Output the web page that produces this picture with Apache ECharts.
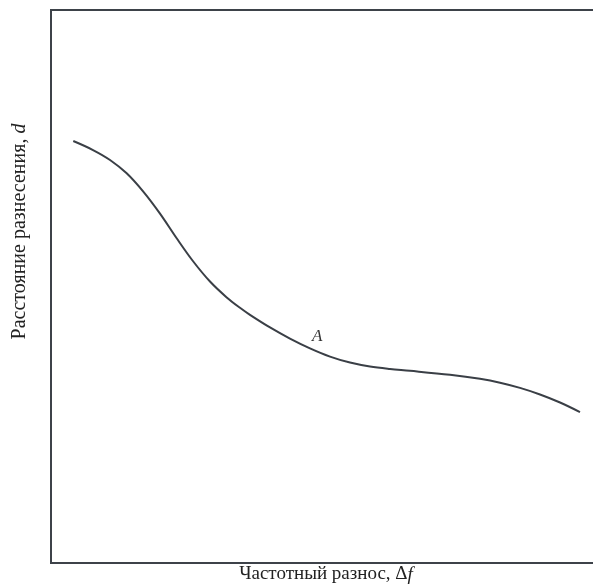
<!DOCTYPE html>
<html>
<head>
<meta charset="utf-8">
<script src="https://cdn.jsdelivr.net/npm/echarts@6/dist/echarts.min.js"></script>
<style>html,body{margin:0;padding:0;background:#fff}#c{width:593px;height:587px}</style>
</head>
<body>
<div id="c"></div>
<script>
const xValues = [4.05, 7.64, 10.73, 13.76, 16.78, 19.82, 22.85, 25.87, 28.91, 31.95, 34.36, 36.18, 39.82, 43.45, 47.09, 50.73, 54.36, 58.00, 61.64, 65.27, 72.55, 78.00, 81.64, 85.27, 88.91, 92.55, 96.18];
const yValues = [76.31, 74.68, 72.88, 70.47, 67.16, 63.18, 58.72, 54.52, 50.90, 48.03, 46.15, 44.88, 42.60, 40.58, 38.81, 37.32, 36.24, 35.52, 35.08, 34.76, 34.03, 33.30, 32.61, 31.67, 30.48, 29.03, 27.30];
const pointLabel = {text: 'A', x: 48.4, y: 41.0};
const xName = ['Частотный разнос, Δ', 'f'];
const yName = ['Расстояние разнесения, ', 'd'];

const font = '"Liberation Serif", "Times New Roman", serif';
const frame = '#3d4249';
const chart = echarts.init(document.getElementById('c'), null, {renderer: 'canvas'});
chart.setOption({
  backgroundColor: '#fff',
  animation: false,
  grid: {left: 51, top: 10, width: 550, height: 553, outerBoundsMode: 'none', containLabel: false,
         show: true, borderColor: frame, borderWidth: 2, backgroundColor: 'transparent'},
  xAxis: {
    type: 'value', min: 0, max: 100,
    axisLine: {show: false}, axisTick: {show: false}, axisLabel: {show: false}, splitLine: {show: false},
    name: '{n|' + xName[0] + '}{i|' + xName[1] + '}',
    nameLocation: 'middle', nameGap: 2,
    nameTextStyle: {verticalAlign: 'top', rich: {
      n: {fontFamily: font, fontSize: 19, color: '#222'},
      i: {fontFamily: font, fontSize: 19, fontStyle: 'italic', color: '#222'}
    }}
  },
  yAxis: {
    type: 'value', min: 0, max: 100,
    axisLine: {show: false}, axisTick: {show: false}, axisLabel: {show: false}, splitLine: {show: false},
    name: '{n|' + yName[0] + '}{i|' + yName[1] + '}',
    nameLocation: 'middle', nameGap: 21,
    nameTextStyle: {padding: [0, 0, 0, 110], rich: {
      n: {fontFamily: font, fontSize: 20, color: '#222'},
      i: {fontFamily: font, fontSize: 20, fontStyle: 'italic', color: '#222'}
    }}
  },
  series: [{
    type: 'line',
    data: xValues.map((x, i) => [x, yValues[i]]),
    smooth: 0.35,
    showSymbol: false,
    lineStyle: {color: '#3a3f46', width: 2},
    markPoint: {
      symbol: 'circle', symbolSize: 0,
      data: [{coord: [pointLabel.x, pointLabel.y]}],
      label: {show: true, formatter: pointLabel.text, fontFamily: font, fontStyle: 'italic', fontSize: 17, color: '#333', position: 'inside'}
    }
  }]
});
</script>
</body>
</html>
